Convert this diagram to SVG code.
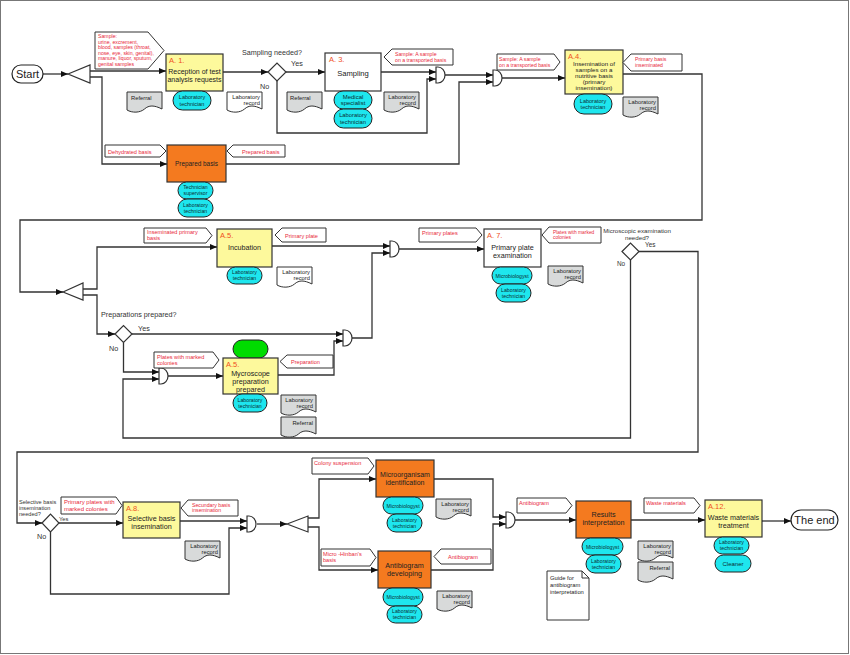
<svg xmlns="http://www.w3.org/2000/svg" width="850" height="655" viewBox="0 0 850 655">
<defs>
<style>
text{font-family:"Liberation Sans",Arial,sans-serif}
.ln{fill:none;stroke:#333;stroke-width:1.3;marker-end:url(#ah)}
.bx{stroke:#333;stroke-width:1.2}
.y{fill:#fdf99c}.o{fill:#f47a1f}.w{fill:#fff}
.pl{fill:#1ee6ee;stroke:#222;stroke-width:1}
.gn{fill:#00dc00;stroke:#222;stroke-width:1}
.dg{fill:#d8dada}.dw{fill:#fff}
.lb{fill:#fff;stroke:#333;stroke-width:1}
.rt{fill:#e8283a;font-size:5.6px}
.bt{fill:#222;font-size:7.2px;text-anchor:middle}
.nm{fill:#f0501e;font-size:7.5px}
.pt{fill:#0c2f33;font-size:5.5px;text-anchor:middle}
.dt{fill:#222;font-size:5.8px;text-anchor:end}
.ds{fill:#222;font-size:5.8px}
.q{fill:#333;font-size:7.2px}
.gt{fill:#fff;stroke:#333;stroke-width:1.2}
.term{fill:#fff;stroke:#222;stroke-width:1.2}
</style>
<marker id="ah" markerWidth="7" markerHeight="6" refX="7" refY="3" orient="auto" markerUnits="userSpaceOnUse"><path d="M0,0 L7,3 L0,6 z" fill="#111"/></marker>
<path id="doc" d="M0,0 H35 V17 C27,13 22,13 17.5,17 C13,21 5,21 0,18 Z" stroke="#333" stroke-width="1"/>
</defs>
<rect x="0.5" y="0.5" width="848" height="653" fill="#fff" stroke="#777"/>

<g id="connectors">
<path class="ln" d="M43,74 H68"/>
<path class="ln" d="M90,71 H166"/>
<path class="ln" d="M90,77 H102 V164 H167"/>
<path class="ln" d="M223,72 H268"/>
<path class="ln" d="M286,72 H325"/>
<path class="ln" d="M381,72 H436"/>
<path class="ln" d="M277,81 V133 H427 V79 H436"/>
<path class="ln" d="M445,75 H493"/>
<path class="ln" d="M226,164 H459 V82 H493"/>
<path class="ln" d="M502,78 H565"/>
<path class="ln" d="M623,74 H702 V220 H20 V292 H63"/>
<path class="ln" d="M83,289 H97 V247 H217"/>
<path class="ln" d="M83,295 H97 V334 H115"/>
<path class="ln" d="M272,246 H390"/>
<path class="ln" d="M132,334 H343"/>
<path class="ln" d="M123.5,342.5 V372 H159"/>
<path class="ln" d="M630.5,260 V438 H123 V379 H159"/>
<path class="ln" d="M168,376 H223"/>
<path class="ln" d="M278,375 H334 V341 H343"/>
<path class="ln" d="M352,338 H372 V253 H390"/>
<path class="ln" d="M399,249 H484"/>
<path class="ln" d="M639,251.5 H698 V452 H17 V523 H42"/>
<path class="ln" d="M59,523 H123"/>
<path class="ln" d="M180,521 H247"/>
<path class="ln" d="M50.5,532 V594 H229 V528 H247"/>
<path class="ln" d="M257,524 H287"/>
<path class="ln" d="M308,518 H319 V479 H376"/>
<path class="ln" d="M308,527 H319 V570 H378"/>
<path class="ln" d="M434,479 H493 V517 H506"/>
<path class="ln" d="M431,570 H493 V524 H506"/>
<path class="ln" d="M515,520 H576"/>
<path class="ln" d="M631,520 H705"/>
<path class="ln" d="M762,521 H791"/>
</g>

<g id="start">
<rect class="term" x="12" y="65" width="31" height="18" rx="9"/>
<text x="27.5" y="78" font-size="11" text-anchor="middle" fill="#222">Start</text>
</g>
<g id="split1"><polygon class="gt" points="68,74 90,65 90,83"/></g>

<g id="label-sample">
<polygon class="lb" points="95,32 148,32 164,50.5 148,69 95,69"/>
<text class="rt" style="font-size:5.2px"><tspan x="98" y="38">Sample:</tspan><tspan x="98" y="43.5">urine, excrement,</tspan><tspan x="98" y="49">blood, samples (throat,</tspan><tspan x="98" y="54.5">nose, eye, skin, genital),</tspan><tspan x="98" y="60">manure, liquor, sputum,</tspan><tspan x="98" y="65.5">genital samples</tspan></text>
</g>

<g id="a1">
<rect class="bx y" x="166" y="54" width="57" height="37"/>
<text class="nm" x="169" y="63">A. 1.</text>
<text class="bt" style="font-size:7px"><tspan x="194.5" y="74">Reception of test</tspan><tspan x="194.5" y="82">analysis requests</tspan></text>
<rect class="pl" x="173" y="91" width="38" height="19" rx="9.5"/>
<text class="pt"><tspan x="192" y="99">Laboratory</tspan><tspan x="192" y="105.5">technician</tspan></text>
<use href="#doc" x="127" y="92" class="dg"/>
<text class="ds" x="131" y="100">Referral</text>
<use href="#doc" x="227" y="92" class="dw"/>
<text class="dt"><tspan x="260" y="99">Laboratory</tspan><tspan x="260" y="105">record</tspan></text>
</g>

<g id="decision-sampling">
<polygon class="gt" points="268,72 277,63 286,72 277,81"/>
<text class="q" x="242" y="55">Sampling needed?</text>
<text class="q" x="291" y="66">Yes</text>
<text class="q" x="260" y="89">No</text>
</g>

<g id="a3">
<rect class="bx w" x="325" y="53" width="56" height="38"/>
<text class="nm" x="329" y="62">A. 3.</text>
<text class="bt" x="353" y="76" style="font-size:7.6px">Sampling</text>
<rect class="pl" x="334" y="91" width="38" height="18" rx="9"/>
<text class="pt" style="font-size:6px"><tspan x="353" y="98.5">Medical</tspan><tspan x="353" y="105">specialist</tspan></text>
<rect class="pl" x="334" y="109" width="38" height="19" rx="9.5"/>
<text class="pt" style="font-size:5.8px"><tspan x="353" y="117">Laboratory</tspan><tspan x="353" y="123.5">technician</tspan></text>
<use href="#doc" x="287" y="92" class="dg"/>
<text class="ds" x="290" y="100">Referral</text>
<use href="#doc" x="384" y="92" class="dg"/>
<text class="dt"><tspan x="416" y="99">Laboratory</tspan><tspan x="416" y="105">record</tspan></text>
<polygon class="lb" points="384,57 392,49 453,49 453,65 392,65"/>
<text class="rt" style="font-size:5.2px"><tspan x="395" y="55.5">Sample: A sample</tspan><tspan x="395" y="61.5">on a transported basis</tspan></text>
</g>

<g id="gate1"><path class="gt" d="M436,67 h2 a7,8 0 0 1 0,16 h-2 z"/></g>
<g id="gate2"><path class="gt" d="M493,70 h2 a7,8 0 0 1 0,16 h-2 z"/></g>

<g id="label-sample2">
<polygon class="lb" points="497,54 554,54 560,62 554,70 497,70"/>
<text class="rt" style="font-size:5.2px"><tspan x="499" y="60.5">Sample: A sample</tspan><tspan x="499" y="66.5">on a transported basis</tspan></text>
</g>

<g id="prepared-basis">
<polygon class="lb" points="105,145 160,145 166,151 160,157 105,157"/>
<text class="rt" x="108" y="153.5">Dehydrated basis</text>
<polygon class="lb" points="227,151 233,145 285,145 285,157 233,157"/>
<text class="rt" x="242" y="153.5">Prepared basis</text>
<rect class="bx o" x="167" y="145" width="59" height="37"/>
<text class="bt" x="196.5" y="166" style="font-size:6.4px">Prepared basis</text>
<rect class="pl" x="178" y="182" width="35" height="17" rx="8.5"/>
<text class="pt" style="font-size:5.2px"><tspan x="195.5" y="189">Technician</tspan><tspan x="195.5" y="195">supervisor</tspan></text>
<rect class="pl" x="178" y="199" width="35" height="18" rx="9"/>
<text class="pt" style="font-size:5.2px"><tspan x="195.5" y="206.5">Laboratory</tspan><tspan x="195.5" y="212.5">technician</tspan></text>
</g>

<g id="a4">
<rect class="bx y" x="565" y="50" width="58" height="44"/>
<text class="nm" x="568" y="58.5">A.4.</text>
<text class="bt" style="font-size:6.2px"><tspan x="594" y="66">Insemination of</tspan><tspan x="594" y="72">samples on a</tspan><tspan x="594" y="78">nutritive basis</tspan><tspan x="594" y="84">(primary</tspan><tspan x="594" y="90">insemination)</tspan></text>
<rect class="pl" x="574" y="94" width="38" height="20" rx="10"/>
<text class="pt"><tspan x="593" y="102.5">Laboratory</tspan><tspan x="593" y="109">technician</tspan></text>
<use href="#doc" x="623" y="97" class="dg"/>
<text class="dt"><tspan x="656" y="104">Laboratory</tspan><tspan x="656" y="110">record</tspan></text>
<polygon class="lb" points="623,62.5 631,54 682,54 682,71 631,71"/>
<text class="rt" style="font-size:5.2px"><tspan x="635" y="61">Primary basis</tspan><tspan x="635" y="67">inseminated</tspan></text>
</g>

<g id="split2"><polygon class="gt" points="63,292 83,283 83,300"/></g>

<g id="a5-incubation">
<polygon class="lb" points="144,228 206,228 212,235.5 206,243 144,243"/>
<text class="rt"><tspan x="147" y="234">Inseminated primary</tspan><tspan x="147" y="240">basis</tspan></text>
<rect class="bx y" x="217" y="229" width="55" height="38"/>
<text class="nm" x="220" y="238">A.5.</text>
<text class="bt" x="244.5" y="250">Incubation</text>
<rect class="pl" x="227" y="267" width="35" height="17" rx="8.5"/>
<text class="pt" style="font-size:5.2px"><tspan x="244.5" y="274">Laboratory</tspan><tspan x="244.5" y="280">technician</tspan></text>
<polygon class="lb" points="275,235 282,228 326,228 326,242 282,242"/>
<text class="rt" x="285" y="237.5">Primary plate</text>
<use href="#doc" x="277" y="267" class="dw"/>
<text class="dt"><tspan x="310" y="273.5">Laboratory</tspan><tspan x="310" y="279.5">record</tspan></text>
</g>

<g id="decision-preparations">
<polygon class="gt" points="115,334 123.5,325.5 132,334 123.5,342.5"/>
<text class="q" x="101" y="317">Preparations prepared?</text>
<text class="q" x="138" y="331">Yes</text>
<text class="q" x="109" y="351">No</text>
</g>

<g id="gate3"><path class="gt" d="M159,368 h2 a7,8 0 0 1 0,16 h-2 z"/></g>
<g id="gate4"><path class="gt" d="M343,330 h2 a7,8 0 0 1 0,16 h-2 z"/></g>
<g id="gate5"><path class="gt" d="M390,241 h2 a7,8 0 0 1 0,16 h-2 z"/></g>

<g id="a5-mycroscope">
<polygon class="lb" points="154,352 213,352 219,360 213,368 154,368"/>
<text class="rt"><tspan x="157" y="358.5">Plates with marked</tspan><tspan x="157" y="365">colonies</tspan></text>
<rect class="gn" x="233" y="340" width="35" height="18" rx="9"/>
<rect class="bx y" x="223" y="358" width="55" height="36"/>
<text class="nm" x="226" y="367">A.5.</text>
<text class="bt"><tspan x="250.5" y="375.5">Mycroscope</tspan><tspan x="250.5" y="383.5">preparation</tspan><tspan x="250.5" y="391.5">prepared</tspan></text>
<rect class="pl" x="233" y="394" width="34" height="18" rx="9"/>
<text class="pt" style="font-size:5.2px"><tspan x="250" y="401.5">Laboratory</tspan><tspan x="250" y="407.5">technician</tspan></text>
<polygon class="lb" points="280,361.5 287,355 333,355 333,368 287,368"/>
<text class="rt" x="291" y="364">Preparation</text>
<use href="#doc" x="281" y="395" class="dg"/>
<text class="dt"><tspan x="313" y="402">Laboratory</tspan><tspan x="313" y="408">record</tspan></text>
<use href="#doc" x="281" y="417" class="dg"/>
<text class="dt" x="313" y="424.5">Referral</text>
</g>

<g id="a7">
<polygon class="lb" points="419,228 476,228 482,235 476,242 419,242"/>
<text class="rt" x="422" y="235">Primary plates</text>
<rect class="bx w" x="484" y="229" width="57" height="38"/>
<text class="nm" x="487" y="238">A. 7.</text>
<text class="bt"><tspan x="512.5" y="250">Primary plate</tspan><tspan x="512.5" y="258">examination</tspan></text>
<rect class="pl" x="492" y="267" width="40" height="17" rx="8.5"/>
<text class="pt" style="font-size:5.2px" x="512" y="277.5">Microbiologyst</text>
<rect class="pl" x="496" y="284" width="35" height="18" rx="9"/>
<text class="pt" style="font-size:5.2px"><tspan x="513.5" y="291.5">Laboratory</tspan><tspan x="513.5" y="297.5">technician</tspan></text>
<polygon class="lb" points="542,235 549,227 601,227 601,243 549,243"/>
<text class="rt" style="font-size:4.9px"><tspan x="553" y="233.5">Plates with marked</tspan><tspan x="553" y="239">colonies</tspan></text>
<use href="#doc" x="548" y="266" class="dg"/>
<text class="dt"><tspan x="581" y="272.5">Laboratory</tspan><tspan x="581" y="278.5">record</tspan></text>
</g>

<g id="decision-microscopic">
<polygon class="gt" points="622,251.5 630.5,243 639,251.5 630.5,260"/>
<text class="q" style="font-size:6.2px" text-anchor="middle"><tspan x="637" y="233">Microscopic examination</tspan><tspan x="637" y="239.5">needed?</tspan></text>
<text class="q" style="font-size:6.4px" x="645" y="247">Yes</text>
<text class="q" style="font-size:6.4px" x="617" y="266">No</text>
</g>

<g id="decision-selective">
<polygon class="gt" points="42,523 50.5,514 59,523 50.5,532"/>
<text class="q" style="font-size:5.6px"><tspan x="19" y="504">Selective basis</tspan><tspan x="19" y="510">insemination</tspan><tspan x="19" y="516">needed?</tspan></text>
<text class="q" style="font-size:5.8px" x="59" y="521">Yes</text>
<text class="q" x="37" y="539">No</text>
</g>

<g id="a8">
<polygon class="lb" points="61,497 116,497 122,505.5 116,514 61,514"/>
<text class="rt" style="font-size:6px"><tspan x="64" y="504">Primary plates with</tspan><tspan x="64" y="511">marked colonies</tspan></text>
<rect class="bx y" x="123" y="502" width="57" height="36"/>
<text class="nm" x="126" y="511">A.8.</text>
<text class="bt"><tspan x="151.5" y="521">Selective basis</tspan><tspan x="151.5" y="529">insemination</tspan></text>
<polygon class="lb" points="181,508 188,500 238,500 238,516 188,516"/>
<text class="rt" style="font-size:5.2px"><tspan x="192" y="506.5">Secundary basis</tspan><tspan x="192" y="512">insemination</tspan></text>
<use href="#doc" x="185" y="541" class="dg"/>
<text class="dt"><tspan x="218" y="547.5">Laboratory</tspan><tspan x="218" y="553.5">record</tspan></text>
</g>

<g id="gate6"><path class="gt" d="M247,516 h2 a7,8 0 0 1 0,16 h-2 z"/></g>
<g id="split3"><polygon class="gt" points="287,524 308,516 308,532"/></g>

<g id="microorganism-identification">
<polygon class="lb" points="312,458 368,458 374,466 368,474 312,474"/>
<text class="rt" x="314" y="464.5">Colony suspension</text>
<rect class="bx o" x="376" y="460" width="58" height="37"/>
<text class="bt" style="font-size:7px"><tspan x="405" y="477">Microorganisam</tspan><tspan x="405" y="485">identification</tspan></text>
<rect class="pl" x="383" y="497" width="40" height="17" rx="8.5"/>
<text class="pt" style="font-size:5.2px" x="403" y="507.5">Microbiologyst</text>
<rect class="pl" x="387" y="514" width="35" height="18" rx="9"/>
<text class="pt" style="font-size:5.2px"><tspan x="404.5" y="521.5">Laboratory</tspan><tspan x="404.5" y="527.5">technician</tspan></text>
<use href="#doc" x="436" y="499" class="dg"/>
<text class="dt"><tspan x="469" y="505.5">Laboratory</tspan><tspan x="469" y="511.5">record</tspan></text>
</g>

<g id="antibiogram-developing">
<polygon class="lb" points="321,549 370,549 376,557.5 370,566 321,566"/>
<text class="rt"><tspan x="323" y="555.5">Micro -Hinban's</tspan><tspan x="323" y="561.5">basis</tspan></text>
<rect class="bx o" x="378" y="551" width="53" height="37"/>
<text class="bt"><tspan x="404.5" y="568">Antibiogram</tspan><tspan x="404.5" y="576">developing</tspan></text>
<polygon class="lb" points="434,556.5 441,549 491,549 491,564 441,564"/>
<text class="rt" x="448" y="558.5">Antibiogram</text>
<rect class="pl" x="383" y="588" width="40" height="18" rx="9"/>
<text class="pt" style="font-size:5.2px" x="403" y="599">Microbiologyst</text>
<rect class="pl" x="387" y="606" width="35" height="17" rx="8.5"/>
<text class="pt" style="font-size:5.2px"><tspan x="404.5" y="613">Laboratory</tspan><tspan x="404.5" y="619">technician</tspan></text>
<use href="#doc" x="437" y="591" class="dg"/>
<text class="dt"><tspan x="470" y="597.5">Laboratory</tspan><tspan x="470" y="603.5">record</tspan></text>
</g>

<g id="gate7"><path class="gt" d="M506,512 h2 a7,8 0 0 1 0,16 h-2 z"/></g>

<g id="results-interpretation">
<polygon class="lb" points="517,498 566,498 572,505.5 566,513 517,513"/>
<text class="rt" x="519" y="505">Antibiogram</text>
<rect class="bx o" x="576" y="501" width="55" height="37"/>
<text class="bt"><tspan x="603.5" y="517">Results</tspan><tspan x="603.5" y="525">interpretation</tspan></text>
<rect class="pl" x="582" y="538" width="41" height="17" rx="8.5"/>
<text class="pt" style="font-size:5.2px" x="602.5" y="548.5">Microbiologyst</text>
<rect class="pl" x="586" y="555" width="35" height="18" rx="9"/>
<text class="pt" style="font-size:5.2px"><tspan x="603.5" y="562.5">Laboratory</tspan><tspan x="603.5" y="568.5">technician</tspan></text>
<use href="#doc" x="638" y="541" class="dg"/>
<text class="dt"><tspan x="671" y="547.5">Laboratory</tspan><tspan x="671" y="553.5">record</tspan></text>
<use href="#doc" x="638" y="562" class="dg"/>
<text class="dt" x="670" y="570">Referral</text>
<path d="M547,571 H582 L589,578 V620 H547 Z M582,571 V578 H589" fill="#fff" stroke="#333" stroke-width="1"/>
<text class="ds"><tspan x="550" y="580">Guide for</tspan><tspan x="550" y="587">antibiogram</tspan><tspan x="550" y="594">interpretation</tspan></text>
</g>

<g id="a12">
<polygon class="lb" points="644,498 694,498 700,505.5 694,513 644,513"/>
<text class="rt" x="646" y="505">Waste materials</text>
<rect class="bx y" x="705" y="500" width="57" height="37"/>
<text class="nm" x="708" y="509">A.12.</text>
<text class="bt"><tspan x="733.5" y="520">Waste materials</tspan><tspan x="733.5" y="528">treatment</tspan></text>
<rect class="pl" x="714" y="537" width="35" height="17" rx="8.5"/>
<text class="pt" style="font-size:5.2px"><tspan x="731.5" y="544">Laboratory</tspan><tspan x="731.5" y="550">technician</tspan></text>
<rect class="pl" x="715" y="555" width="36" height="17" rx="8.5"/>
<text class="pt" style="font-size:6px" x="733" y="565.5">Cleaner</text>
</g>

<g id="end">
<rect class="term" x="791" y="510" width="47" height="20" rx="10"/>
<text x="814.5" y="524" font-size="11" text-anchor="middle" fill="#222">The end</text>
</g>
</svg>
